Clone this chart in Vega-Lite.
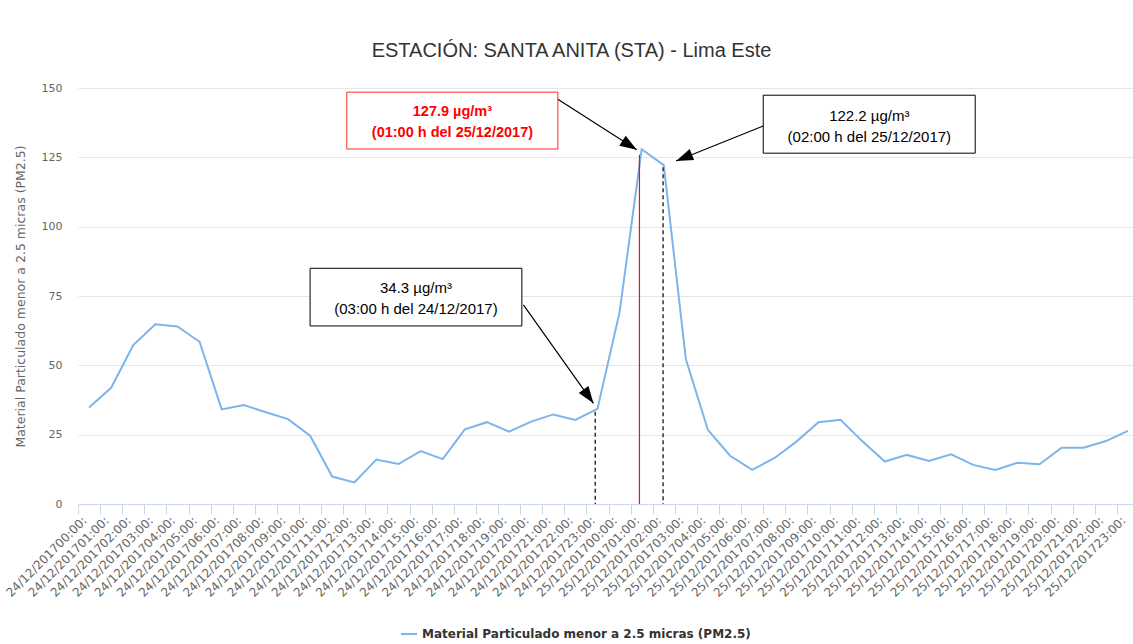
{
  "$schema": "https://vega.github.io/schema/vega-lite/v6.json",
  "width": 1061,
  "height": 416,
  "autosize": {"type": "none"},
  "padding": {"left": 78, "top": 88, "right": 0, "bottom": 140},
  "background": "white",
  "config": {"font": "Liberation Sans", "view": {"stroke": null}},
  "title": {"text": "ESTACIÓN: SANTA ANITA (STA) - Lima Este", "fontSize": 20, "fontWeight": "normal", "color": "#333333", "dx": -37, "offset": 21, "anchor": "middle"},
  "datasets": {
    "pm": [
      {"hora": "24/12/201700:00:", "pm25": 34.8},
      {"hora": "24/12/201701:00:", "pm25": 41.9},
      {"hora": "24/12/201702:00:", "pm25": 57.3},
      {"hora": "24/12/201703:00:", "pm25": 64.8},
      {"hora": "24/12/201704:00:", "pm25": 64.0},
      {"hora": "24/12/201705:00:", "pm25": 58.5},
      {"hora": "24/12/201706:00:", "pm25": 34.1},
      {"hora": "24/12/201707:00:", "pm25": 35.7},
      {"hora": "24/12/201708:00:", "pm25": 33.1},
      {"hora": "24/12/201709:00:", "pm25": 30.6},
      {"hora": "24/12/201710:00:", "pm25": 24.6},
      {"hora": "24/12/201711:00:", "pm25": 9.9},
      {"hora": "24/12/201712:00:", "pm25": 7.8},
      {"hora": "24/12/201713:00:", "pm25": 16.0},
      {"hora": "24/12/201714:00:", "pm25": 14.4},
      {"hora": "24/12/201715:00:", "pm25": 19.1},
      {"hora": "24/12/201716:00:", "pm25": 16.2},
      {"hora": "24/12/201717:00:", "pm25": 26.9},
      {"hora": "24/12/201718:00:", "pm25": 29.5},
      {"hora": "24/12/201719:00:", "pm25": 26.1},
      {"hora": "24/12/201720:00:", "pm25": 29.7},
      {"hora": "24/12/201721:00:", "pm25": 32.3},
      {"hora": "24/12/201722:00:", "pm25": 30.3},
      {"hora": "24/12/201723:00:", "pm25": 34.3},
      {"hora": "25/12/201700:00:", "pm25": 69.1},
      {"hora": "25/12/201701:00:", "pm25": 127.9},
      {"hora": "25/12/201702:00:", "pm25": 122.2},
      {"hora": "25/12/201703:00:", "pm25": 52.2},
      {"hora": "25/12/201704:00:", "pm25": 26.7},
      {"hora": "25/12/201705:00:", "pm25": 17.4},
      {"hora": "25/12/201706:00:", "pm25": 12.3},
      {"hora": "25/12/201707:00:", "pm25": 16.5},
      {"hora": "25/12/201708:00:", "pm25": 22.5},
      {"hora": "25/12/201709:00:", "pm25": 29.5},
      {"hora": "25/12/201710:00:", "pm25": 30.4},
      {"hora": "25/12/201711:00:", "pm25": 22.5},
      {"hora": "25/12/201712:00:", "pm25": 15.3},
      {"hora": "25/12/201713:00:", "pm25": 17.7},
      {"hora": "25/12/201714:00:", "pm25": 15.5},
      {"hora": "25/12/201715:00:", "pm25": 17.9},
      {"hora": "25/12/201716:00:", "pm25": 14.1},
      {"hora": "25/12/201717:00:", "pm25": 12.3},
      {"hora": "25/12/201718:00:", "pm25": 14.9},
      {"hora": "25/12/201719:00:", "pm25": 14.3},
      {"hora": "25/12/201720:00:", "pm25": 20.3},
      {"hora": "25/12/201721:00:", "pm25": 20.3},
      {"hora": "25/12/201722:00:", "pm25": 22.7},
      {"hora": "25/12/201723:00:", "pm25": 26.4}
    ],
    "cajas": [
      {"id": "max", "x": 12.16, "x2": 21.71, "y": 148.5, "y2": 128.0, "xc": 16.94, "yc": 141.4, "texto": "127.9 µg/m³\n(01:00 h del 25/12/2017)"},
      {"id": "b2", "x": 31.0, "x2": 40.59, "y": 147.4, "y2": 126.5, "xc": 35.8, "yc": 139.9, "texto": "122.2 µg/m³\n(02:00 h del 25/12/2017)"},
      {"id": "b1", "x": 10.5, "x2": 20.08, "y": 85.0, "y2": 64.2, "xc": 15.29, "yc": 77.9, "texto": "34.3 µg/m³\n(03:00 h del 24/12/2017)"}
    ],
    "flechas": [
      {"id": "max", "x": 21.69, "y": 146.0, "x2": 25.28, "y2": 127.7},
      {"id": "b2", "x": 31.0, "y": 136.3, "x2": 27.06, "y2": 123.7},
      {"id": "b1", "x": 20.15, "y": 71.8, "x2": 23.32, "y2": 36.3}
    ],
    "guias": [
      {"id": "b1", "x": 23.4, "y": 33.3},
      {"id": "max", "x": 25.4, "y": 125.9},
      {"id": "b2", "x": 26.47, "y": 121.4}
    ]
  },
  "layer": [
    {
      "data": {"name": "pm"},
      "mark": {"type": "line", "strokeWidth": 2},
      "encoding": {
        "x": {
          "field": "hora", "type": "ordinal", "sort": null,
          "scale": {"type": "band", "paddingInner": 0, "paddingOuter": 0},
          "axis": {"title": null, "labelAngle": -45, "labelAlign": "right", "labelBaseline": "bottom", "labelColor": "#666666", "labelFontSize": 12, "labelFont": "DejaVu Sans", "tickBand": "extent", "tickColor": "#ccd6eb", "tickSize": 10, "domainColor": "#ccd6eb", "grid": false, "labelPadding": 9, "labelOverlap": false, "labelBound": false, "labelFlush": false}
        },
        "y": {
          "field": "pm25", "type": "quantitative",
          "scale": {"domain": [0, 150], "nice": false},
          "axis": {"title": "Material Particulado menor a 2.5 micras (PM2.5)", "values": [0, 25, 50, 75, 100, 125, 150], "grid": true, "gridColor": "#e6e6e6", "domain": false, "ticks": false, "labelColor": "#666666", "labelFontSize": 11, "labelFont": "DejaVu Sans", "labelPadding": 16, "titleColor": "#666666", "titleFontSize": 12.5, "titleFont": "DejaVu Sans", "titleFontWeight": "normal", "titlePadding": 14}
        },
        "color": {
          "datum": "Material Particulado menor a 2.5 micras (PM2.5)", "type": "nominal",
          "scale": {"range": ["#7cb5ec"]},
          "legend": {"title": null, "orient": "none", "legendX": 322, "legendY": 537, "symbolType": "stroke", "symbolStrokeWidth": 2, "symbolSize": 256, "labelFontSize": 12, "labelFont": "DejaVu Sans", "labelFontWeight": "bold", "labelColor": "#333333", "labelLimit": 500}
        }
      }
    },
    {
      "layer": [
        {
          "data": {"name": "guias"},
          "transform": [{"filter": "datum.id != 'max'"}],
          "mark": {"type": "rule", "color": "#333333", "strokeWidth": 1.5, "strokeDash": [4, 3]},
          "encoding": {
            "x": {"field": "x", "type": "quantitative", "scale": {"domain": [0, 48], "nice": false, "zero": false}, "axis": null},
            "y": {"field": "y", "type": "quantitative", "scale": {"domain": [0, 150], "nice": false}, "title": "Material Particulado menor a 2.5 micras (PM2.5)"},
            "y2": {"datum": 0}
          }
        },
        {
          "data": {"name": "guias"},
          "transform": [{"filter": "datum.id == 'max'"}],
          "mark": {"type": "rule", "color": "#e8141b", "strokeWidth": 1.2},
          "encoding": {
            "x": {"field": "x", "type": "quantitative", "axis": null},
            "y": {"field": "y", "type": "quantitative", "title": "Material Particulado menor a 2.5 micras (PM2.5)"},
            "y2": {"datum": 0}
          }
        },
        {
          "data": {"name": "flechas"},
          "mark": {"type": "rule", "color": "#000000", "strokeWidth": 1.2},
          "encoding": {
            "x": {"field": "x", "type": "quantitative", "axis": null},
            "y": {"field": "y", "type": "quantitative", "title": "Material Particulado menor a 2.5 micras (PM2.5)"},
            "x2": {"field": "x2"},
            "y2": {"field": "y2"}
          }
        },
        {
          "data": {"name": "flechas"},
          "transform": [{"filter": "datum.id == 'max'"}],
          "mark": {"type": "point", "shape": "M0,0L-2,-0.7L-2,0.7Z", "filled": true, "color": "#000000", "size": 289, "angle": 32.6, "opacity": 1},
          "encoding": {
            "x": {"field": "x2", "type": "quantitative", "axis": null},
            "y": {"field": "y2", "type": "quantitative", "title": "Material Particulado menor a 2.5 micras (PM2.5)"}
          }
        },
        {
          "data": {"name": "flechas"},
          "transform": [{"filter": "datum.id == 'b2'"}],
          "mark": {"type": "point", "shape": "M0,0L-2,-0.7L-2,0.7Z", "filled": true, "color": "#000000", "size": 289, "angle": 158.1, "opacity": 1},
          "encoding": {
            "x": {"field": "x2", "type": "quantitative", "axis": null},
            "y": {"field": "y2", "type": "quantitative", "title": "Material Particulado menor a 2.5 micras (PM2.5)"}
          }
        },
        {
          "data": {"name": "flechas"},
          "transform": [{"filter": "datum.id == 'b1'"}],
          "mark": {"type": "point", "shape": "M0,0L-2,-0.7L-2,0.7Z", "filled": true, "color": "#000000", "size": 289, "angle": 54.5, "opacity": 1},
          "encoding": {
            "x": {"field": "x2", "type": "quantitative", "axis": null},
            "y": {"field": "y2", "type": "quantitative", "title": "Material Particulado menor a 2.5 micras (PM2.5)"}
          }
        },
        {
          "data": {"name": "cajas"},
          "transform": [{"filter": "datum.id == 'max'"}],
          "mark": {"type": "rect", "fill": "white", "stroke": "#ff2a2a", "strokeWidth": 1},
          "encoding": {
            "x": {"field": "x", "type": "quantitative", "axis": null},
            "x2": {"field": "x2"},
            "y": {"field": "y", "type": "quantitative", "title": "Material Particulado menor a 2.5 micras (PM2.5)"},
            "y2": {"field": "y2"}
          }
        },
        {
          "data": {"name": "cajas"},
          "transform": [{"filter": "datum.id != 'max'"}],
          "mark": {"type": "rect", "fill": "white", "stroke": "#000000", "strokeWidth": 1},
          "encoding": {
            "x": {"field": "x", "type": "quantitative", "axis": null},
            "x2": {"field": "x2"},
            "y": {"field": "y", "type": "quantitative", "title": "Material Particulado menor a 2.5 micras (PM2.5)"},
            "y2": {"field": "y2"}
          }
        },
        {
          "data": {"name": "cajas"},
          "transform": [{"filter": "datum.id == 'max'"}],
          "mark": {"type": "text", "lineBreak": "\n", "lineHeight": 21, "fontSize": 14.5, "fontWeight": "bold", "color": "#ff0000", "align": "center", "baseline": "middle"},
          "encoding": {
            "x": {"field": "xc", "type": "quantitative", "axis": null},
            "y": {"field": "yc", "type": "quantitative", "title": "Material Particulado menor a 2.5 micras (PM2.5)"},
            "text": {"field": "texto"}
          }
        },
        {
          "data": {"name": "cajas"},
          "transform": [{"filter": "datum.id != 'max'"}],
          "mark": {"type": "text", "lineBreak": "\n", "lineHeight": 21, "fontSize": 15, "color": "#000000", "align": "center", "baseline": "middle"},
          "encoding": {
            "x": {"field": "xc", "type": "quantitative", "axis": null},
            "y": {"field": "yc", "type": "quantitative", "title": "Material Particulado menor a 2.5 micras (PM2.5)"},
            "text": {"field": "texto"}
          }
        }
      ]
    }
  ],
  "resolve": {"scale": {"x": "independent"}, "axis": {"x": "independent"}}
}
